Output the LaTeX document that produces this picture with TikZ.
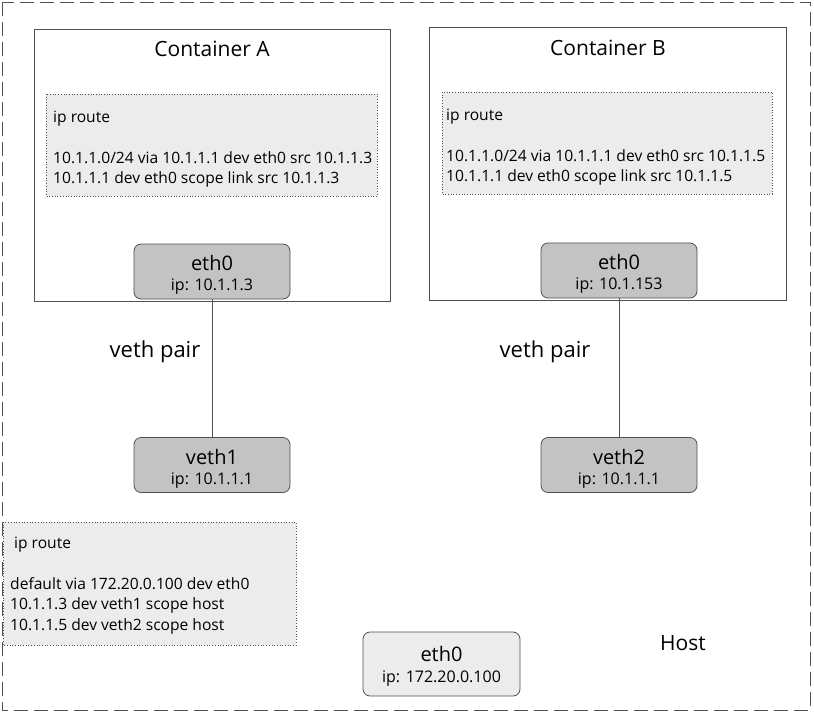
\documentclass[tikz,border=0pt]{standalone}
\usepackage{fontspec}
\setmainfont{Open Sans}
\definecolor{ifdark}{HTML}{C3C3C3}
\definecolor{boxlight}{HTML}{ECECEC}
\definecolor{edge}{HTML}{505050}
\begin{document}
\begin{tikzpicture}[x=1pt,y=-1pt,
  hostframe/.style={draw=edge,dash pattern=on 14pt off 6pt,line width=0.9pt},
  container/.style={draw=edge,line width=0.8pt},
  routebox/.style={draw=edge,fill=boxlight,dotted,line width=0.7pt},
  ifbox/.style={draw=edge,fill=ifdark,rounded corners=7pt,line width=0.8pt,minimum width=156pt,minimum height=55pt,inner sep=0pt},
  iflight/.style={ifbox,fill=boxlight},
  title/.style={font=\fontsize{21}{25}\selectfont,inner sep=0pt},
  big/.style={font=\fontsize{20}{24}\selectfont,inner sep=0pt},
  small/.style={font=\fontsize{16}{19}\selectfont,inner sep=0pt},
  rtext/.style={font=\fontsize{15.6}{20.5}\selectfont,inner sep=0pt,anchor=north west,align=left},
  link/.style={draw=edge,line width=0.8pt}]
\useasboundingbox (0,0) rectangle (814,712);
\draw[hostframe] (2,2) rectangle (810,710);
% containers
\draw[container] (34,29) rectangle (390,301);
\draw[container] (429,27) rectangle (786,300);
\node[title] (titleA) at (212,49) {Container A};
\node[title] (titleB) at (608,48) {Container B};
% route boxes
\draw[routebox] (46,94) rectangle (377,196);
\node[rtext] (rtA) at (53,111) {ip route\\[20pt]10.1.1.0/24 via 10.1.1.1 dev eth0 src 10.1.1.3\\10.1.1.1 dev eth0 scope link src 10.1.1.3};
\draw[routebox] (442,92) rectangle (772,194);
\node[rtext] (rtB) at (446,109) {ip route\\[20pt]10.1.1.0/24 via 10.1.1.1 dev eth0 src 10.1.1.5\\10.1.1.1 dev eth0 scope link src 10.1.1.5};
\draw[routebox] (3,522) rectangle (296,645);
\node[rtext] (rtH) at (14,537) {ip route};
\node[rtext] (rtH2) at (10,577) {default via 172.20.0.100 dev eth0\\10.1.1.3 dev veth1 scope host\\10.1.1.5 dev veth2 scope host};
% interfaces
\node[ifbox] (ethA) at (212,271.5) {};
\node[big] at (212,263) {eth0};
\node[small] at (212,287) {ip: 10.1.1.3};
\node[ifbox] (ethB) at (619,270.5) {};
\node[big] at (619,262) {eth0};
\node[small] at (619,286) {ip: 10.1.153};
\node[ifbox] (veth1) at (212,465) {};
\node[big] at (212,457) {veth1};
\node[small] at (212,481) {ip: 10.1.1.1};
\node[ifbox] (veth2) at (619,465) {};
\node[big] at (619,457) {veth2};
\node[small] at (619,481) {ip: 10.1.1.1};
\node[iflight,minimum height=64pt,minimum width=157pt] (ethH) at (441.5,664) {};
\node[big] at (441.5,654) {eth0};
\node[small] at (441.5,679) {ip: 172.20.0.100};
% links
\draw[link] (ethA) -- (veth1);
\draw[link] (ethB) -- (veth2);
\node[title,font=\fontsize{22}{26}\selectfont] (vpA) at (155,352) {veth pair};
\node[title,font=\fontsize{22}{26}\selectfont] (vpB) at (545,352) {veth pair};
\node[title] (host) at (683,643) {Host};
\end{tikzpicture}
\end{document}
